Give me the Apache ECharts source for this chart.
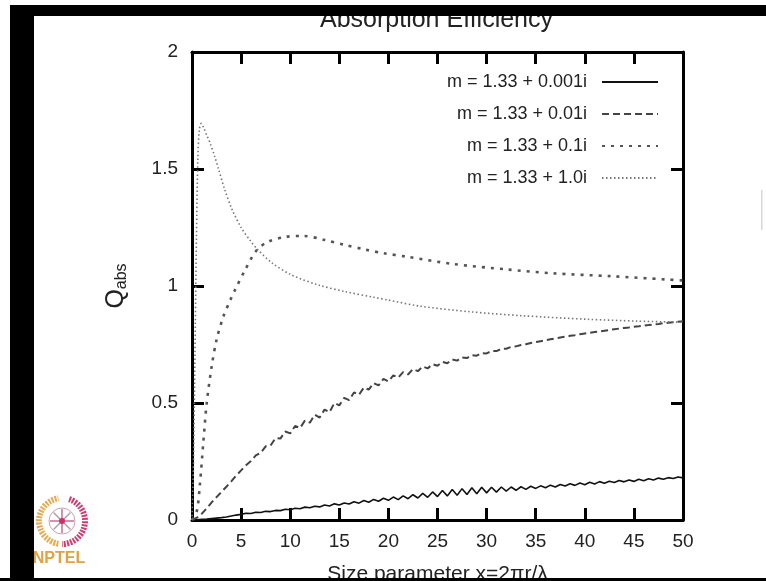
<!DOCTYPE html>
<html>
<head>
<meta charset="utf-8">
<script src="https://cdn.jsdelivr.net/npm/echarts@6/dist/echarts.min.js"></script>
<style>
  html, body { margin: 0; padding: 0; background: #ffffff; }
  #chart { width: 766px; height: 581px; }
</style>
</head>
<body>
<div id="chart"></div>
<script>
// Size parameter grid shared by the two weakly absorbing cases
const xFine = [
  0, 0.5, 1, 1.5, 2, 2.5, 3, 3.5, 4, 4.5, 5, 5.5, 6, 6.5, 7, 7.5, 8, 8.5, 9, 9.5,
  10, 10.5, 11, 11.5, 12, 12.5, 13, 13.5, 14, 14.5, 15, 15.5, 16, 16.5, 17, 17.5, 18, 18.5, 19, 19.5,
  20, 20.5, 21, 21.5, 22, 22.5, 23, 23.5, 24, 24.5, 25, 25.5, 26, 26.5, 27, 27.5, 28, 28.5, 29, 29.5,
  30, 30.5, 31, 31.5, 32, 32.5, 33, 33.5, 34, 34.5, 35, 35.5, 36, 36.5, 37, 37.5, 38, 38.5, 39, 39.5,
  40, 40.5, 41, 41.5, 42, 42.5, 43, 43.5, 44, 44.5, 45, 45.5, 46, 46.5, 47, 47.5, 48, 48.5, 49, 49.5, 50
];

// m = 1.33 + 0.001i
const qAbs0001 = [
  0.000, 0.001, 0.003, 0.004, 0.006, 0.008, 0.010, 0.013, 0.017, 0.021,
  0.024, 0.029, 0.028, 0.033, 0.032, 0.037, 0.036, 0.041, 0.040, 0.046,
  0.044, 0.050, 0.048, 0.055, 0.052, 0.059, 0.056, 0.064, 0.060, 0.069,
  0.064, 0.073, 0.068, 0.078, 0.072, 0.083, 0.076, 0.088, 0.080, 0.093,
  0.084, 0.098, 0.087, 0.103, 0.091, 0.108, 0.094, 0.114, 0.097, 0.120,
  0.100, 0.126, 0.103, 0.130, 0.106, 0.134, 0.109, 0.138, 0.112, 0.140,
  0.116, 0.140, 0.119, 0.141, 0.123, 0.141, 0.127, 0.142, 0.131, 0.144,
  0.135, 0.146, 0.138, 0.149, 0.141, 0.152, 0.145, 0.155, 0.148, 0.158,
  0.151, 0.161, 0.154, 0.164, 0.157, 0.166, 0.160, 0.169, 0.163, 0.171,
  0.165, 0.174, 0.168, 0.176, 0.171, 0.179, 0.174, 0.181, 0.177, 0.184, 0.180
];

// m = 1.33 + 0.01i
const qAbs001 = [
  0.000, 0.010, 0.027, 0.050, 0.075, 0.098, 0.120, 0.142, 0.165, 0.190,
  0.212, 0.234, 0.252, 0.276, 0.287, 0.315, 0.318, 0.350, 0.348, 0.378,
  0.370, 0.402, 0.393, 0.425, 0.416, 0.450, 0.438, 0.472, 0.460, 0.500,
  0.490, 0.522, 0.512, 0.545, 0.535, 0.566, 0.557, 0.585, 0.575, 0.603,
  0.592, 0.618, 0.608, 0.632, 0.622, 0.645, 0.636, 0.656, 0.648, 0.666,
  0.659, 0.676, 0.670, 0.686, 0.681, 0.695, 0.692, 0.704, 0.702, 0.713,
  0.712, 0.722, 0.722, 0.731, 0.732, 0.740, 0.742, 0.748, 0.751, 0.756,
  0.760, 0.764, 0.768, 0.772, 0.776, 0.780, 0.783, 0.787, 0.790, 0.794,
  0.797, 0.800, 0.803, 0.806, 0.809, 0.812, 0.815, 0.818, 0.821, 0.823,
  0.826, 0.828, 0.831, 0.833, 0.836, 0.838, 0.841, 0.843, 0.845, 0.847, 0.849
];

// m = 1.33 + 0.1i
const x01 = [0, 0.5, 0.8, 1.15, 1.5, 2, 2.5, 3.2, 3.9, 4.4, 5.4, 6.6, 7.8, 9.5, 11.3,
  13.5, 15.6, 17.6, 19.5, 21.9, 26.6, 32, 36.8, 42.6, 48.3, 50];
const qAbs01 = [0, 0.04, 0.15, 0.33, 0.5, 0.655, 0.77, 0.87, 0.94, 0.985, 1.068, 1.154, 1.19, 1.21, 1.214,
  1.197, 1.175, 1.156, 1.14, 1.125, 1.094, 1.071, 1.054, 1.042, 1.028, 1.024];

// m = 1.33 + 1.0i
const x10 = [0, 0.15, 0.3, 0.45, 0.6, 0.75, 0.95, 1.2, 1.5, 1.85, 2.3, 2.7, 3.35, 4.05, 5,
  6, 6.6, 8.1, 10.15, 12.9, 15.6, 18.5, 20, 23.2, 28.3, 33.6, 40.2, 45.3, 50];
const qAbs10 = [0, 0.25, 0.7, 1.2, 1.55, 1.67, 1.695, 1.675, 1.645, 1.61, 1.555, 1.5, 1.41, 1.33, 1.25,
  1.19, 1.16, 1.1, 1.047, 1.004, 0.976, 0.952, 0.94, 0.914, 0.89, 0.873, 0.858, 0.85, 0.845];

const seriesNames = ['m = 1.33 + 0.001i', 'm = 1.33 + 0.01i', 'm = 1.33 + 0.1i', 'm = 1.33 + 1.0i'];

const xTicks = { min: 0, max: 50, interval: 5 };
const yTicks = { min: 0, max: 2, interval: 0.5 };

function pairs(xs, ys) {
  return xs.map((x, i) => [x, ys[i]]);
}

const FONT = 'Liberation Sans, Arial, sans-serif';
const frame = { show: true, onZero: false, lineStyle: { color: '#000', width: 3 } };
const ticksIn = { show: true, inside: true, length: 12, lineStyle: { color: '#000', width: 3 } };

const chart = echarts.init(document.getElementById('chart'), null, { renderer: 'canvas' });

chart.setOption({
  backgroundColor: '#ffffff',
  animation: false,
  title: {
    text: 'Absorption Efficiency',
    left: 320,
    top: 8,
    padding: 0,
    textStyle: { fontFamily: FONT, fontSize: 25, fontWeight: 'normal', color: '#222' }
  },
  grid: { left: 192, right: 83, top: 52, bottom: 61, containLabel: false, outerBoundsMode: 'none' },
  legend: {
    orient: 'vertical',
    right: 102,
    top: 68,
    align: 'right',
    itemWidth: 56,
    itemHeight: 14,
    itemGap: 14,
    selectedMode: false,
    itemStyle: { color: 'rgba(0,0,0,0)', borderWidth: 0, opacity: 0 },
    textStyle: { fontFamily: FONT, fontSize: 18, color: '#222', padding: [0, 10, 0, 0] },
    data: seriesNames
  },
  xAxis: [
    {
      type: 'value', position: 'bottom', ...xTicks,
      name: 'Size parameter x=2πr/λ', nameLocation: 'middle', nameGap: 44,
      nameTextStyle: { fontFamily: FONT, fontSize: 21, color: '#222' },
      axisLine: frame, axisTick: ticksIn, splitLine: { show: false },
      axisLabel: { fontFamily: FONT, fontSize: 19, color: '#222', margin: 12 }
    },
    {
      type: 'value', position: 'top', ...xTicks,
      axisLine: frame, axisTick: ticksIn, splitLine: { show: false },
      axisLabel: { show: false }
    }
  ],
  yAxis: [
    {
      type: 'value', position: 'left', ...yTicks,
      name: '{q|Q}{s|abs}', nameLocation: 'middle', nameGap: 62, nameRotate: 90,
      nameTextStyle: {
        fontFamily: FONT, color: '#222',
        rich: {
          q: { fontFamily: FONT, fontSize: 25, color: '#222' },
          s: { fontFamily: FONT, fontSize: 16, color: '#222', padding: [12, 0, 0, 0] }
        }
      },
      axisLine: frame, axisTick: ticksIn, splitLine: { show: false },
      axisLabel: { fontFamily: FONT, fontSize: 19, color: '#222', margin: 14 }
    },
    {
      type: 'value', position: 'right', ...yTicks,
      axisLine: frame, axisTick: ticksIn, splitLine: { show: false },
      axisLabel: { show: false }
    }
  ],
  series: [
    {
      name: seriesNames[0], type: 'line', symbol: 'none',
      data: pairs(xFine, qAbs0001),
      lineStyle: { color: '#111', width: 1.6, type: 'solid' },
      itemStyle: { color: '#111' }
    },
    {
      name: seriesNames[1], type: 'line', symbol: 'none',
      data: pairs(xFine, qAbs001),
      lineStyle: { color: '#444', width: 2, type: [7, 4] },
      itemStyle: { color: '#444' }
    },
    {
      name: seriesNames[2], type: 'line', symbol: 'none', smooth: 0.3,
      data: pairs(x01, qAbs01),
      lineStyle: { color: '#555', width: 2.6, type: [3, 6] },
      itemStyle: { color: '#555' }
    },
    {
      name: seriesNames[3], type: 'line', symbol: 'none', smooth: 0.3,
      data: pairs(x10, qAbs10),
      lineStyle: { color: '#777', width: 1.6, type: [1.5, 2.5] },
      itemStyle: { color: '#777' }
    }
  ],
  graphic: [
    // dark frame strips around the slide
    { type: 'rect', z: 100, shape: { x: 10, y: 5, width: 756, height: 11 }, style: { fill: '#000' } },
    { type: 'rect', z: 100, shape: { x: 10, y: 5, width: 24, height: 576 }, style: { fill: '#000' } },
    { type: 'rect', z: 100, shape: { x: 0, y: 578, width: 766, height: 3 }, style: { fill: '#000' } },
    { type: 'rect', z: 100, shape: { x: 761, y: 190, width: 1.5, height: 40 }, style: { fill: '#d8d8d8' } },
    // NPTEL emblem
    {
      type: 'group', z: 100, children: [
        { type: 'arc', shape: { cx: 62, cy: 521, r: 23, startAngle: Math.PI * 0.55, endAngle: Math.PI * 1.45 },
          style: { stroke: '#e3ac55', lineWidth: 6, fill: 'none', lineDash: [2, 1.2] } },
        { type: 'arc', shape: { cx: 62, cy: 521, r: 23, startAngle: -Math.PI * 0.4, endAngle: Math.PI * 0.5 },
          style: { stroke: '#cc3f72', lineWidth: 6, fill: 'none', lineDash: [2, 1.2] } },
        { type: 'line', shape: { x1: 50, y1: 521, x2: 74, y2: 521 }, style: { stroke: '#c07090', lineWidth: 1.5 } },
        { type: 'line', shape: { x1: 62, y1: 509, x2: 62, y2: 533 }, style: { stroke: '#c07090', lineWidth: 1.5 } },
        { type: 'line', shape: { x1: 53.5, y1: 512.5, x2: 70.5, y2: 529.5 }, style: { stroke: '#a9a0a8', lineWidth: 1.5 } },
        { type: 'line', shape: { x1: 70.5, y1: 512.5, x2: 53.5, y2: 529.5 }, style: { stroke: '#a9a0a8', lineWidth: 1.5 } },
        { type: 'circle', shape: { cx: 62, cy: 521, r: 13 }, style: { stroke: '#c9a2b4', lineWidth: 1, fill: 'none' } },
        { type: 'circle', shape: { cx: 62, cy: 521, r: 3 }, style: { fill: '#d0306a' } },
        { type: 'text', x: 59, y: 559,
          style: { text: 'NPTEL', fill: '#e0a243', fontFamily: FONT, fontSize: 16, fontWeight: 'bold',
                   textAlign: 'center', textVerticalAlign: 'middle' } }
      ]
    }
  ]
});
</script>
</body>
</html>
